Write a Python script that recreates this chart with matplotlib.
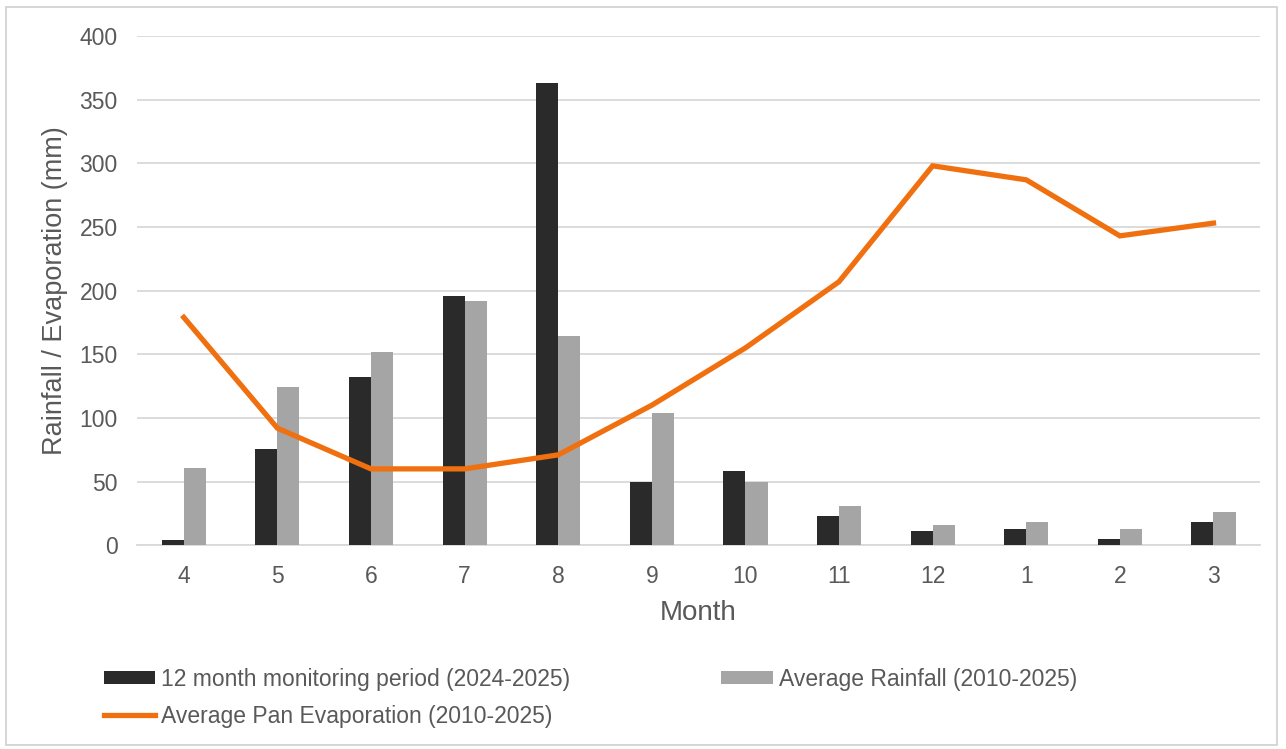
import matplotlib

matplotlib.use("Agg")
import matplotlib.pyplot as plt
import numpy as np
from matplotlib.patches import Rectangle

plt.rcParams["font.family"] = ["Liberation Sans", "DejaVu Sans"]

# ---------------------------------------------------------------- data
months = ["4", "5", "6", "7", "8", "9", "10", "11", "12", "1", "2", "3"]
monitoring = [4, 76, 132, 196, 363, 50, 58, 23, 11, 13, 5, 18]
avg_rain = [61, 124, 152, 192, 164, 104, 50, 31, 16, 18, 13, 26]
avg_evap = [179, 92, 60, 60, 71, 110, 155, 207, 298, 287, 243, 253]

# ---------------------------------------------------------------- style
DARK = "#2a2a2a"
GREY = "#a5a5a5"
ORANGE = "#f07010"
INK = "#595959"
GRID = "#d9d9d9"

fig = plt.figure(figsize=(12.86, 7.49), dpi=100, facecolor="white")
ax = fig.add_axes([0.1065, 0.272, 0.8735, 0.680])

x = np.arange(len(months))
bw = 0.236
b1 = ax.bar(x - bw / 2, monitoring, bw, color=DARK, zorder=3,
            label="12 month monitoring period (2024-2025)")
b2 = ax.bar(x + bw / 2, avg_rain, bw, color=GREY, zorder=3,
            label="Average Rainfall (2010-2025)")
ln, = ax.plot(x, avg_evap, color=ORANGE, lw=3.8, zorder=4,
              solid_joinstyle="miter", label="Average Pan Evaporation (2010-2025)")

ax.set_xlim(-0.5, len(months) - 0.5)
ax.set_ylim(0, 400)
ax.set_yticks(np.arange(0, 401, 50))
ax.set_xticks(x)
ax.set_xticklabels(months)
ax.tick_params(axis="both", length=0, labelsize=16.5, labelcolor=INK)
ax.tick_params(axis="x", pad=14)
ax.tick_params(axis="y", pad=14)
ax.yaxis.grid(True, color=GRID, lw=1.3, zorder=0)
for side in ("top", "right", "left"):
    ax.spines[side].set_visible(False)
ax.spines["bottom"].set_color(GRID)
ax.spines["bottom"].set_linewidth(1.3)

ax.set_xlabel("Month", fontsize=20, color=INK, labelpad=9)
ax.set_ylabel("Rainfall / Evaporation (mm)", fontsize=19.5, color=INK, labelpad=8)

leg = fig.legend([b1, ln, b2],
                 [b1.get_label(), ln.get_label(), b2.get_label()],
                 ncol=2, loc="upper left", bbox_to_anchor=(0.0645, 0.136),
                 frameon=False, fontsize=16.5, handlelength=2.25,
                 handleheight=0.5, handletextpad=0.25, columnspacing=6.6,
                 labelspacing=0.6, labelcolor=INK)

# light frame around the chart area
fig.patches.append(Rectangle((0.005, 0.006), 0.988, 0.984, transform=fig.transFigure,
                             fill=False, edgecolor="#d0d0d0", lw=1.2))

fig.savefig("out.png", dpi=100, facecolor="white")
